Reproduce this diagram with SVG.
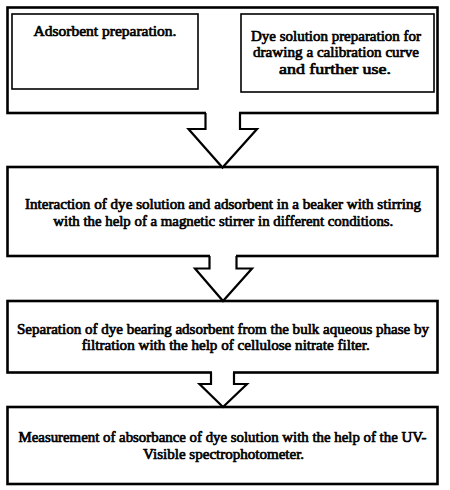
<svg xmlns="http://www.w3.org/2000/svg" width="450" height="490" viewBox="0 0 450 490">
<style>
.box{fill:#fff;stroke:#000;stroke-width:2.6}
.inner{fill:#fff;stroke:#000;stroke-width:1.6}
.t{font-family:'Liberation Serif','Times New Roman',serif;font-weight:normal;font-size:15px;fill:#000;stroke:#000;stroke-width:0.7;stroke-linejoin:round;text-anchor:middle}
.arrowfill{fill:#fff;stroke:none}
.arrowline{fill:none;stroke:#000;stroke-width:2.2;stroke-linejoin:miter}
</style>
<rect width="450" height="490" fill="#fff"/>
<g id="node-prep">
<rect class="box" x="7.5" y="7.5" width="430" height="105.5"/>
<g id="node-adsorbent">
<rect class="inner" x="12" y="14" width="186" height="75"/>
<text class="t" x="105" y="35.5" textLength="143" lengthAdjust="spacingAndGlyphs">Adsorbent preparation.</text>
</g>
<g id="node-dye">
<rect class="inner" x="241" y="14" width="193" height="78"/>
<text class="t" x="336" y="40.5" textLength="170" lengthAdjust="spacingAndGlyphs">Dye solution preparation for</text>
<text class="t" x="336" y="57" textLength="166" lengthAdjust="spacingAndGlyphs">drawing a calibration curve</text>
<text class="t" x="335" y="73.5" textLength="112" lengthAdjust="spacingAndGlyphs">and further use.</text>
</g>
</g>
<g id="node-interaction">
<rect class="box" x="7.5" y="167" width="430" height="89"/>
<text class="t" x="223" y="209" textLength="396" lengthAdjust="spacingAndGlyphs">Interaction of dye solution and adsorbent in a beaker with stirring</text>
<text class="t" x="223.3" y="226" textLength="340" lengthAdjust="spacingAndGlyphs">with the help of a magnetic stirrer in different conditions.</text>
</g>
<g id="node-separation">
<rect class="box" x="7.5" y="301" width="430" height="71.5"/>
<text class="t" x="223" y="333.5" textLength="412" lengthAdjust="spacingAndGlyphs">Separation of dye bearing adsorbent from the bulk aqueous phase by</text>
<text class="t" x="225.8" y="350" textLength="288" lengthAdjust="spacingAndGlyphs">filtration with the help of cellulose nitrate filter.</text>
</g>
<g id="node-measurement">
<rect class="box" x="7.5" y="407" width="430" height="77"/>
<text class="t" x="222.5" y="441.5" textLength="408" lengthAdjust="spacingAndGlyphs">Measurement of absorbance of dye solution with the help of the UV-</text>
<text class="t" x="223.6" y="458.5" textLength="161" lengthAdjust="spacingAndGlyphs">Visible spectrophotometer.</text>
</g>
<g id="connectors">
<polygon class="arrowfill" points="206,111 239,111 239,129 257,129 222.5,167 188.5,129 206,129"/>
<polyline class="arrowline" points="205.5,113 205.5,129 188.5,129 222.5,167.5 257,129 240,129 240,113"/>
<polygon class="arrowfill" points="210,254 236,254 236,268 252,268 223,300 195,268 210,268"/>
<polyline class="arrowline" points="209.5,256 209.5,268.5 195,268.5 223,301 252,268.5 236.5,268.5 236.5,256"/>
<polygon class="arrowfill" points="212,371 233,371 233,384 247,384 223,406 199.5,384 212,384"/>
<polyline class="arrowline" points="211,372.5 211,384 199.5,384 223,407 247,384 234,384 234,372.5"/>
</g>
</svg>
